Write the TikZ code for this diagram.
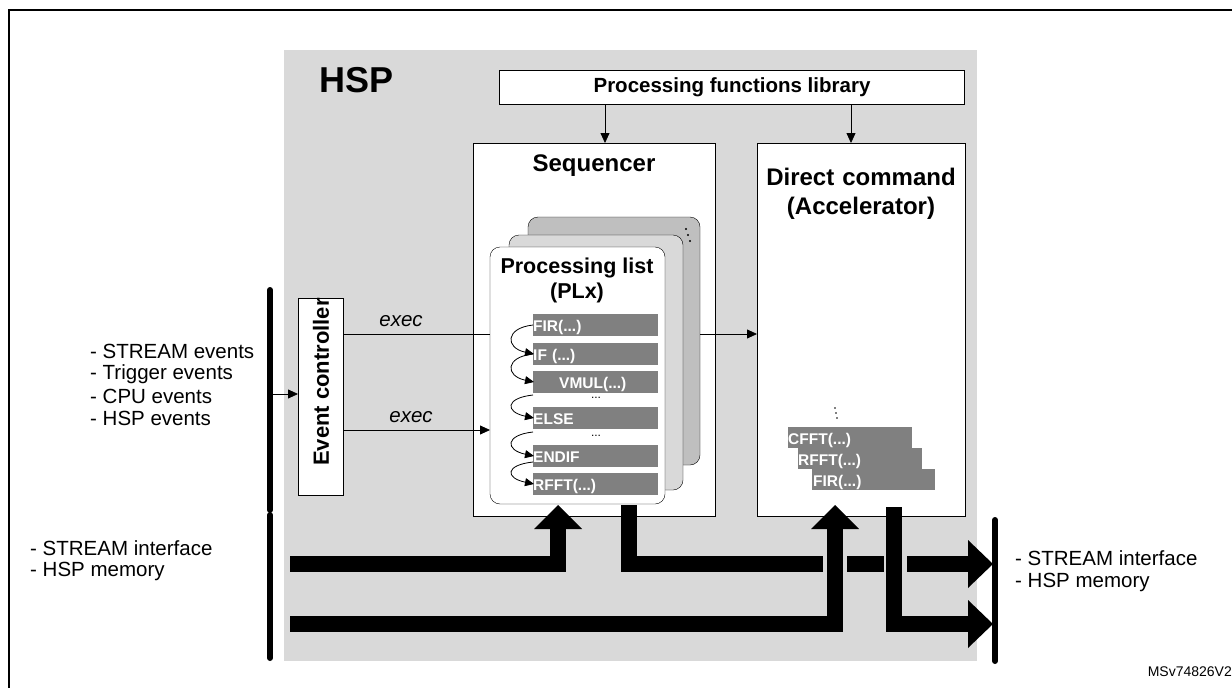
\documentclass[tikz,border=0pt]{standalone}
\usepackage{fontspec}
\setmainfont{Liberation Sans}
\usetikzlibrary{arrows.meta}
\begin{document}
\begin{tikzpicture}[x=1pt,y=-1pt,
  box/.style={draw,line width=0.8pt,fill=white},
  bar/.style={fill=black!50,text=white,font=\fontsize{15.5}{17}\selectfont\bfseries,anchor=north west,inner sep=0pt,text height=11pt,text depth=0pt},
  lbl/.style={font=\fontsize{20.5}{24}\selectfont,anchor=west,inner sep=0pt},
  ttl/.style={font=\fontsize{24}{29}\selectfont\bfseries,align=center},
  arr/.style={-{Triangle[length=10pt,width=9pt]},line width=0.8pt},
  big/.style={line width=16pt,line join=miter,line cap=butt}]
\useasboundingbox (0,0) rectangle (1232,688);
\draw[line width=1.5pt] (9,700) -- (9,10) -- (1240,10);
\fill[black!15] (284,50) rectangle (977,661);
\node[font=\fontsize{36}{40}\selectfont\bfseries] (hsp) at (357,80) {HSP};
% library
\node[box,minimum width=465pt,minimum height=34pt,font=\fontsize{20.5}{24}\selectfont\bfseries] (lib) at (732,87) {Processing functions library};
% sequencer
\draw[box] (473,143) rectangle (715,516);
\node[ttl] (seq) at (594,166) {Sequencer};
\draw[box] (757,143) rectangle (965,516);
\node[ttl,text width=205pt] (dc) at (861,194) {Direct command\\(Accelerator)};
\draw[arr] (605,104) -- (605,143);
\draw[arr] (851,104) -- (851,143);
% PL cards
\draw[fill=black!25,rounded corners=10pt] (528,217) rectangle (700,465);
\foreach \i in {0,1,2} \fill (686+\i*2,229+\i*6) circle (1.1pt);
\draw[fill=black!15,rounded corners=10pt] (509,235) rectangle (683,490);
\draw[fill=white,rounded corners=10pt] (490,247) rectangle (665,504);
\node[ttl,font=\fontsize{21.5}{25}\selectfont\bfseries] (pl) at (577,280) {Processing list\\(PLx)};
\foreach \y/\t/\n in {314/{FIR(...)}/b1,343/{IF (...)}/b2,371/{\hspace{26pt}VMUL(...)}/b3,407/{ELSE}/b4,445/{ENDIF}/b5,473/{RFFT(...)}/b6}
  \node[bar,minimum width=125pt,minimum height=22pt,text width=125pt,align=left] (\n) at (533,\y) {\raisebox{-1pt}{\t}};
\node[font=\fontsize{12}{12}\selectfont,inner sep=0pt] at (596,398) {...};
\node[font=\fontsize{12}{12}\selectfont,inner sep=0pt] at (596,436) {...};
\foreach \a/\b in {325/354,354/382,395/418,432/456,462/484}
  \draw[-{Triangle[length=9pt,width=8pt]},line width=0.8pt] (533,\a) .. controls (505,\a+3) and (505,\b-6) .. (534,\b);
% direct command bars
\foreach \i in {0,1,2} \fill (835+\i*1,408+\i*5) circle (0.9pt);
\node[bar,minimum width=124pt,minimum height=21pt,text width=124pt,align=left] (c1) at (788,427) {\raisebox{-1pt}{CFFT(...)}};
\node[bar,minimum width=124pt,minimum height=21pt,text width=124pt,align=left] (c2) at (798,448) {\raisebox{-1pt}{RFFT(...)}};
\node[bar,minimum width=123pt,minimum height=21pt,text width=123pt,align=left] (c3) at (812,469) {\hspace{1pt}\raisebox{-1pt}{FIR(...)}};
% event controller
\draw[box] (298,298) rectangle (343,495);
\node[rotate=90,font=\fontsize{22}{26}\selectfont\bfseries] (ev) at (321,382) {Event controller};
\draw[line width=6pt,line cap=round] (270,290) -- (270,510);
\node[lbl] at (90,351) {- STREAM events};
\node[lbl] at (90,374) {- Trigger events};
\node[lbl] at (90,396) {- CPU events};
\node[lbl] at (90,418) {- HSP events};
\draw[arr] (272,394) -- (298,394);
\draw[line width=0.8pt] (343,334) -- (490,334);
\node[font=\fontsize{20.5}{24}\selectfont\itshape] at (401,321) {exec};
\draw[arr] (343,430) -- (490,430);
\node[font=\fontsize{20.5}{24}\selectfont\itshape] at (411,417) {exec};
\draw[arr] (700,334) -- (757,334);
% bottom thick arrows
\draw[line width=6pt,line cap=round] (270,515) -- (270,658);
\draw[line width=6pt,line cap=round] (995,520) -- (995,661);
\node[lbl] at (30,548) {- STREAM interface};
\node[lbl] at (30,571) {- HSP memory};
\node[lbl] at (1015,558) {- STREAM interface};
\node[lbl] at (1015,582) {- HSP memory};
\node[font=\fontsize{14}{16}\selectfont,anchor=east,inner sep=0pt] at (1232,672) {MSv74826V2};
% arrow 1 into sequencer
\draw[big] (290,564) -- (558,564) -- (558,527);
\fill (534,529) -- (582,529) -- (558,505) -- cycle;
% sequencer out
\draw[big] (629,505) -- (629,564) -- (823,564);
\draw[big] (847,564) -- (884,564);
\draw[big] (907,564) -- (969,564);
\fill (968,540) -- (968,588) -- (993,564) -- cycle;
% arrow 2 into DC
\draw[big] (290,624) -- (835,624) -- (835,527);
\fill (811,529) -- (859,529) -- (835,505) -- cycle;
% DC out
\draw[big] (894,507) -- (894,624) -- (969,624);
\fill (968,600) -- (968,648) -- (993,624) -- cycle;
\end{tikzpicture}
\end{document}
